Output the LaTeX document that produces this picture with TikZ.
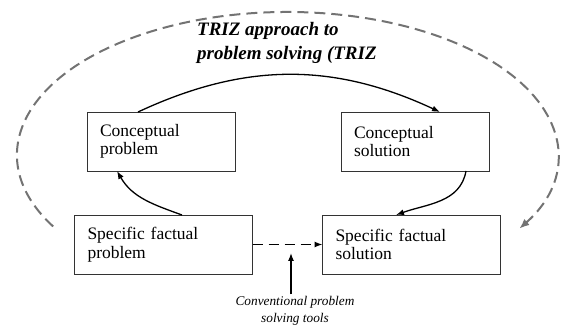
\documentclass[tikz,border=0pt]{standalone}
\usepackage{fontspec}
\setmainfont{Liberation Serif}
\usetikzlibrary{arrows.meta}

\begin{document}
\begin{tikzpicture}
  [x=1pt,y=1pt,
   box/.style={rectangle,draw=black!80,line width=0.9pt,align=left,
               outer sep=0,inner xsep=13pt,minimum height=59pt,
               font=\fontsize{17.5}{18.5}\selectfont},
   concept/.style={box,minimum width=148pt,text width=122pt},
   factual/.style={box,minimum width=178pt,text width=152pt},
   flow/.style={line width=1.3pt,-{Latex[length=8pt,width=6pt]}},
   loop/.style={draw=black!55,line width=2pt,dash pattern=on 11pt off 6pt,
                -{Latex[length=10pt,width=8pt]}}]
  \useasboundingbox (0,0) rectangle (563,329);
  \node[concept] (CP) at (161,187.5) {Conceptual\\problem};
  \node[concept] (CS) at (415,187.5) {Conceptual\\solution};
  \node[factual] (SP) at (163.5,84.5) {Specific factual\\problem};
  \node[factual] (SS) at (411.5,84.5) {Specific factual\\solution};
  \node[align=left,anchor=north west,inner sep=0,
        font=\fontsize{19}{24}\selectfont\bfseries\itshape] (title) at (197,307)
        {TRIZ approach to\\problem solving (TRIZ};
  \node[align=center,inner sep=2pt,font=\fontsize{13.3}{17}\selectfont\itshape]
        (tools) at (295,18) {Conventional problem\\solving tools};
  \coordinate (gap) at (291,76);
  \coordinate (loopstart) at (53.2,102.5);
  \draw[flow] ([xshift=-23pt]CP.north) to [out=25,in=155] ([xshift=25pt]CS.north);
  \draw[flow] ([xshift=51pt]CS.south) to [out=-100,in=20] ([xshift=-15.5pt]SS.north);
  \draw[flow] ([xshift=18.5pt]SP.north) to [out=160,in=-60] ([xshift=-44pt]CP.south);
  \draw[flow,dash pattern=on 10pt off 6pt] (SP) to (SS);
  \draw[flow] ([xshift=-4pt]tools.north) to (gap);
  \draw[loop] (loopstart) arc[start angle=210,end angle=-31,x radius=270.5,y radius=143];
\end{tikzpicture}
\end{document}
